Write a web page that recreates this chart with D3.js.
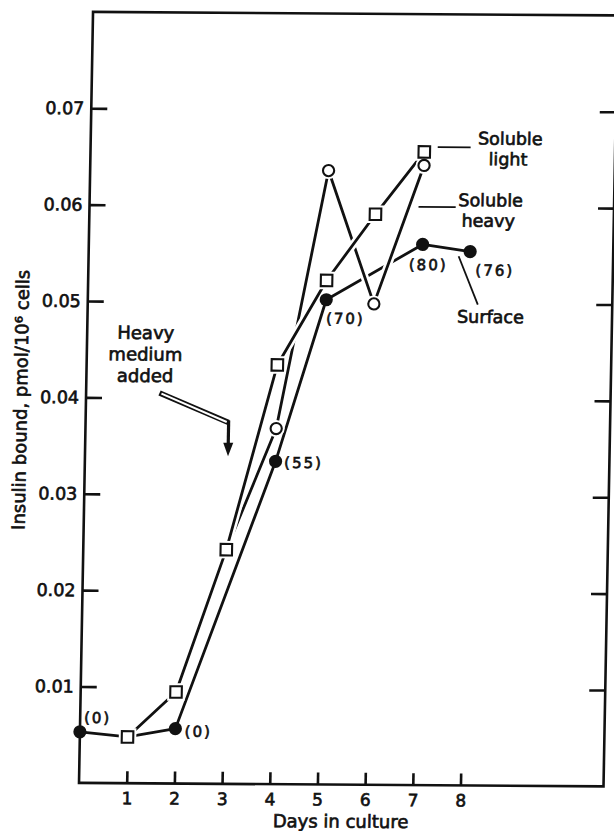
<!DOCTYPE html>
<html>
<head>
<meta charset="utf-8">
<script src="https://cdn.jsdelivr.net/npm/d3@7"></script>
<style>
  body { margin: 0; background: #fff; }
  text { font-family: "DejaVu Sans", sans-serif; fill: #111; stroke: #111; stroke-width: 0.65px; }
</style>
</head>
<body>
<div id="chart"></div>
<script>
// values
const xTicks = [1, 2, 3, 4, 5, 6, 7, 8];
const yTicks = [0.01, 0.02, 0.03, 0.04, 0.05, 0.06, 0.07];

const surfaceDays   = [0, 2, 4, 5, 7, 8];
const surfaceValues = [0.0053, 0.0057, 0.0335, 0.0503, 0.0561, 0.0554];
const surfaceLabels = ["(0)", "(0)", "(55)", "(70)", "(80)", "(76)"];

const lightDays   = [1, 2, 3, 4, 5, 6, 7];
const lightValues = [0.0048, 0.0095, 0.0243, 0.0435, 0.0523, 0.0592, 0.0657];

const heavyDays   = [4, 5, 6, 7];
const heavyValues = [0.0369, 0.0637, 0.0499, 0.0643];

// label offsets (px) for the surface numbers
const labelDx = [17.5, 23, 28, 19.5, 6, 25];
const labelDy = [-9, 8, 6.5, 24, 25.5, 24];

const width = 614, height = 831;

const svg = d3.select("#chart")
  .append("svg")
    .attr("width", width)
    .attr("height", height);

// the scanned page is slightly sheared, copy that
const k = 0.0182, m = 0.0067;
const g = svg.append("g")
  .attr("transform", `matrix(1, ${m}, ${-k}, 1, ${k * 783}, ${-m * 79})`);

const x = d3.scaleLinear().domain([0, 11]).range([79, 603.5]);
const y = d3.scaleLinear().domain([0, 0.08]).range([782.9, 11.9]);

const ink = "#111";

// frame
g.append("rect")
  .attr("x", x(0))
  .attr("y", y(0.08))
  .attr("width", x(11) - x(0))
  .attr("height", y(0) - y(0.08))
  .attr("fill", "none")
  .attr("stroke", ink)
  .attr("stroke-width", 2.6);

function styleAxis(a, size) {
  a.select(".domain").remove();
  a.selectAll(".tick line").attr("stroke", ink).attr("stroke-width", 2.6);
  a.selectAll("text").style("font-size", size + "px");
}

g.append("g")
  .attr("transform", `translate(${x(0)},0)`)
  .call(d3.axisLeft(y).tickValues(yTicks).tickFormat(d3.format(".2f")).tickSize(-16).tickPadding(7))
  .call(a => styleAxis(a, 17.5));

g.append("g")
  .attr("transform", `translate(${x(11)},0)`)
  .call(d3.axisRight(y).tickValues(yTicks).tickFormat("").tickSize(-16))
  .call(a => styleAxis(a, 17.5));

g.append("g")
  .attr("transform", `translate(0,${y(0)})`)
  .call(d3.axisBottom(x).tickValues(xTicks).tickFormat(d3.format("d")).tickSize(-12).tickPadding(9))
  .call(a => styleAxis(a, 17));

// axis titles
g.append("text")
  .attr("x", (x(0) + x(11)) / 2)
  .attr("y", y(0) + 43)
  .attr("text-anchor", "middle")
  .style("font-size", "18px")
  .text("Days in culture");

g.append("text")
  .attr("transform", `translate(${x(0) - 59},${y(0.0397)}) rotate(-90)`)
  .attr("text-anchor", "middle")
  .style("font-size", "18px")
  .text("Insulin bound, pmol/10\u2076 cells");

// series paths
const surfacePts = surfaceDays.map((d, i) => [d, surfaceValues[i]]);
const lightPts = lightDays.map((d, i) => [d, lightValues[i]]);
const heavyPts = heavyDays.map((d, i) => [d, heavyValues[i]]);

// surface runs through the day-1 point, heavy starts from the day-3 point
const surfaceLine = [surfacePts[0], lightPts[0]].concat(surfacePts.slice(1));
const heavyLine = [lightPts[2]].concat(heavyPts);

const line = d3.line().x(d => x(d[0])).y(d => y(d[1]));

[surfaceLine, heavyLine, lightPts].forEach(function(pts) {
  g.append("path")
    .attr("d", line(pts))
    .attr("fill", "none")
    .attr("stroke", "#fff")
    .attr("stroke-width", 8);
  g.append("path")
    .attr("d", line(pts))
    .attr("fill", "none")
    .attr("stroke", ink)
    .attr("stroke-width", 2.8)
    .attr("stroke-linejoin", "round");
});

// white gaps round the open markers
const sq = 11.5;
g.selectAll(".sqHalo")
  .data(lightPts)
  .enter()
  .append("rect")
    .attr("x", d => x(d[0]) - sq / 2 - 3)
    .attr("y", d => y(d[1]) - sq / 2 - 3)
    .attr("width", sq + 6)
    .attr("height", sq + 6)
    .attr("fill", "#fff");

g.selectAll(".ciHalo")
  .data(heavyPts)
  .enter()
  .append("circle")
    .attr("cx", d => x(d[0]))
    .attr("cy", d => y(d[1]))
    .attr("r", 8.5)
    .attr("fill", "#fff");

g.selectAll(".sq")
  .data(lightPts)
  .enter()
  .append("rect")
    .attr("x", d => x(d[0]) - sq / 2)
    .attr("y", d => y(d[1]) - sq / 2)
    .attr("width", sq)
    .attr("height", sq)
    .attr("fill", "#fff")
    .attr("stroke", ink)
    .attr("stroke-width", 2.1);

g.selectAll(".ci")
  .data(heavyPts)
  .enter()
  .append("circle")
    .attr("cx", d => x(d[0]))
    .attr("cy", d => y(d[1]))
    .attr("r", 5.6)
    .attr("fill", "#fff")
    .attr("stroke", ink)
    .attr("stroke-width", 2.1);

g.selectAll(".dot")
  .data(surfacePts)
  .enter()
  .append("circle")
    .attr("cx", d => x(d[0]))
    .attr("cy", d => y(d[1]))
    .attr("r", 6.6)
    .attr("fill", ink);

g.selectAll(".lab")
  .data(surfacePts)
  .enter()
  .append("text")
    .attr("x", (d, i) => x(d[0]) + labelDx[i])
    .attr("y", (d, i) => y(d[1]) + labelDy[i])
    .attr("text-anchor", "middle")
    .style("font-size", "15px")
    .style("letter-spacing", "2px")
    .text((d, i) => surfaceLabels[i]);

// series names with leader lines
function leader(x1, v1, x2, v2) {
  g.append("line")
    .attr("x1", x(x1)).attr("y1", y(v1))
    .attr("x2", x(x2)).attr("y2", y(v2))
    .attr("stroke", ink)
    .attr("stroke-width", 1.8);
}
function twoLines(cx, v, a, b, gap) {
  const t = g.append("text")
    .attr("text-anchor", "middle")
    .style("font-size", "17.5px");
  t.append("tspan").attr("x", x(cx)).attr("y", y(v)).text(a);
  if (b) t.append("tspan").attr("x", x(cx) - 2).attr("dy", gap).text(b);
}

leader(7.28, 0.0662, 7.97, 0.0662);
twoLines(8.8, 0.0665, "Soluble", "light", 20.5);

leader(6.9, 0.0600, 7.68, 0.0600);
twoLines(8.41, 0.0601, "Soluble", "heavy", 20.5);

leader(7.76, 0.0549, 8.18, 0.0499);
twoLines(8.45, 0.0480, "Surface", null, 0);

// "Heavy medium added" and its arrow
const note = g.append("text")
  .attr("text-anchor", "middle")
  .style("font-size", "18px");
["Heavy", "medium", "added"].forEach(function(w, i) {
  note.append("tspan")
    .attr("x", x(1.23))
    .attr(i ? "dy" : "y", i ? 21.5 : y(0.0461))
    .text(w);
});

g.append("path")
  .attr("d", line([[1.54, 0.0405], [3.0, 0.0375]]))
  .attr("stroke", ink)
  .attr("stroke-width", 5.5)
  .attr("fill", "none");
g.append("path")
  .attr("d", line([[1.58, 0.04045], [2.96, 0.03755]]))
  .attr("stroke", "#fff")
  .attr("stroke-width", 2)
  .attr("fill", "none");
g.append("path")
  .attr("d", line([[3.0, 0.0377], [3.0, 0.0353]]))
  .attr("stroke", ink)
  .attr("stroke-width", 3.2)
  .attr("fill", "none");
g.append("path")
  .attr("d", `M${x(3.0) - 5},${y(0.0354)} L${x(3.0) + 5},${y(0.0354)} L${x(3.0)},${y(0.0340)} Z`)
  .attr("fill", ink);
</script>
</body>
</html>
